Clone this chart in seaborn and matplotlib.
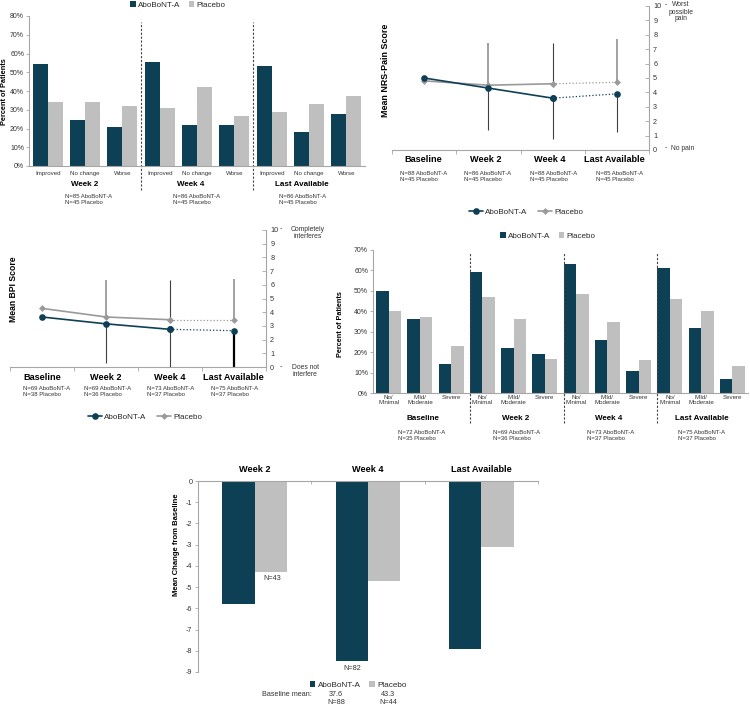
import numpy as np
import pandas as pd
import seaborn as sns
import matplotlib
matplotlib.use('Agg')
import matplotlib.pyplot as plt
from matplotlib.lines import Line2D

sns.set_theme(style='white')
plt.rcParams['font.family'] = ['Liberation Sans', 'DejaVu Sans']

# ---------------- data ----------------
series = ['AboBoNT-A', 'Placebo']

# Panel A: change category (%)
a_groups = ['Week 2', 'Week 4', 'Last Available']
a_cats = ['Improved', 'No change', 'Worse']
a_abo = [54.2, 24.5, 21.0, 55.6, 22.0, 22.0, 53.3, 18.4, 27.6]
a_pla = [34.2, 34.2, 31.8, 31.0, 42.2, 26.6, 28.7, 33.2, 37.6]
a_n = ['N=85 AboBoNT-A\nN=45 Placebo', 'N=86 AboBoNT-A\nN=45 Placebo', 'N=86 AboBoNT-A\nN=45 Placebo']

# Panel B: NRS-Pain
b_times = ['Baseline', 'Week 2', 'Week 4', 'Last Available']
b_abo = [5.0, 4.3, 3.6, 3.9]
b_pla = [4.8, 4.5, 4.6, 4.7]
b_abo_lo = [np.nan, 1.4, 0.75, 1.25]
b_pla_hi = [np.nan, 7.4, 7.4, 7.7]
b_n = ['N=88 AboBoNT-A\nN=45 Placebo', 'N=86 AboBoNT-A\nN=45 Placebo',
       'N=88 AboBoNT-A\nN=45 Placebo', 'N=85 AboBoNT-A\nN=45 Placebo']

# Panel C: BPI
c_abo = [3.65, 3.15, 2.75, 2.65]
c_pla = [4.28, 3.65, 3.45, 3.45]
c_abo_lo = [np.nan, 0.3, 0.0, 0.0]
c_pla_hi = [np.nan, 6.35, 6.35, 6.45]
c_n = ['N=69 AboBoNT-A\nN=38 Placebo', 'N=69 AboBoNT-A\nN=36 Placebo',
       'N=73 AboBoNT-A\nN=37 Placebo', 'N=75 AboBoNT-A\nN=37 Placebo']

# Panel D: severity category (%)
d_groups = ['Baseline', 'Week 2', 'Week 4', 'Last Available']
d_cats = ['No/\nMinimal', 'Mild/\nModerate', 'Severe']
d_abo = [50.0, 36.0, 14.0, 59.4, 22.0, 19.0, 63.0, 26.0, 10.8, 61.0, 32.0, 7.0]
d_pla = [40.0, 37.0, 23.0, 47.0, 36.0, 16.5, 48.4, 35.0, 16.0, 45.8, 40.0, 13.0]
d_n = ['N=72 AboBoNT-A\nN=35 Placebo', 'N=69 AboBoNT-A\nN=36 Placebo',
       'N=73 AboBoNT-A\nN=37 Placebo', 'N=75 AboBoNT-A\nN=37 Placebo']

# Panel E: mean change from baseline
e_groups = ['Week 2', 'Week 4', 'Last Available']
e_abo = [-5.8, -8.5, -7.9]
e_pla = [-4.3, -4.7, -3.1]
e_base_mean = ['37.6', '43.3']
e_base_n = ['N=88', 'N=44']

# ---------------- style ----------------
W, H = 750, 706
DARK = '#0e4055'
LIGHT = '#bfbfbf'
PLA_LINE = '#9a9a9a'
AXC = '#a6a6a6'
TXT = '#333333'

fig = plt.figure(figsize=(W / 100, H / 100), dpi=100)


def rect(x0, y0, x1, y1):
    return [x0 / W, 1 - y1 / H, (x1 - x0) / W, (y1 - y0) / H]


def T(x, y, s, **kw):
    kw.setdefault('ha', 'center')
    kw.setdefault('va', 'center')
    kw.setdefault('color', 'black')
    fig.text(x / W, 1 - y / H, s, **kw)


def style(ax):
    for s in ax.spines.values():
        s.set_color(AXC)
        s.set_linewidth(0.8)
    ax.tick_params(colors=AXC, labelcolor=TXT, width=0.6)
    ax.set_xlabel('')
    ax.set_ylabel('')


def bar_panel(ax, pos, abo, pla, width):
    df = pd.DataFrame({'pos': pos + pos, 'value': list(abo) + list(pla),
                       'Series': [series[0]] * len(pos) + [series[1]] * len(pos)})
    sns.barplot(data=df, x='pos', y='value', hue='Series', order=pos, hue_order=series,
                palette=[DARK, LIGHT], saturation=1, width=width, linewidth=0, ax=ax)


def bar_legend(ax, cx, cy, fs=5.8):
    h, l = ax.get_legend_handles_labels()
    if ax.get_legend() is not None:
        ax.get_legend().remove()
    fig.legend(h, l, loc='center', bbox_to_anchor=(cx / W, 1 - cy / H), ncol=2,
               frameon=False, fontsize=fs, handlelength=0.7, handleheight=0.7,
               handletextpad=0.3, columnspacing=1.0, borderpad=0)


def line_panel(ax, abo, pla, abo_lo, pla_hi, up_cols, lo_cols, lo_widths):
    x = np.arange(4)
    for i in range(4):
        if not np.isnan(pla_hi[i]):
            ax.vlines(x[i], pla[i], pla_hi[i], colors=up_cols[i],
                      lw=1.3 if up_cols[i] == PLA_LINE else 0.8, zorder=1)
        if not np.isnan(abo_lo[i]):
            ax.vlines(x[i], abo_lo[i], abo[i], colors=lo_cols[i], lw=lo_widths[i], zorder=1)
    sns.lineplot(x=x[:3], y=pla[:3], color=PLA_LINE, lw=1.2, marker='D', markersize=3.5,
                 markeredgewidth=0, ax=ax, zorder=3)
    sns.lineplot(x=x[2:], y=pla[2:], color=PLA_LINE, lw=0.9, ls=':', marker='D',
                 markersize=3.5, markeredgewidth=0, ax=ax, zorder=3)
    sns.lineplot(x=x[:3], y=abo[:3], color=DARK, lw=1.2, marker='o', markersize=4.8,
                 markeredgewidth=0, ax=ax, zorder=4)
    sns.lineplot(x=x[2:], y=abo[2:], color=DARK, lw=0.9, ls=':', marker='o',
                 markersize=4.8, markeredgewidth=0, ax=ax, zorder=4)
    style(ax)
    ax.set_xlim(-0.5, 3.5)
    ax.set_ylim(0, 10)
    ax.spines['left'].set_visible(False)
    ax.spines['top'].set_visible(False)
    ax.yaxis.tick_right()
    ax.set_yticks(range(11))
    ax.tick_params(axis='y', right=True, left=False, direction='in', length=3,
                   labelsize=5.2, pad=3)
    ax.set_xticks([-0.5, 0.5, 1.5, 2.5, 3.5])
    ax.tick_params(axis='x', bottom=True, direction='out', length=3, labelbottom=False)


def line_legend(cx, cy):
    hs = [Line2D([], [], color=DARK, lw=1.2, marker='o', markersize=4.8, markeredgewidth=0),
          Line2D([], [], color=PLA_LINE, lw=1.2, marker='D', markersize=3.5, markeredgewidth=0)]
    fig.legend(hs, series, loc='center', bbox_to_anchor=(cx / W, 1 - cy / H), ncol=2,
               frameon=False, fontsize=5.8, handlelength=1.8, handletextpad=0.3,
               columnspacing=1.2, borderpad=0)


# ---------------- Panel A ----------------
axA = fig.add_axes(rect(29, 16, 365, 166))
posA = [f'{g}|{c}' for g in a_groups for c in a_cats]
bar_panel(axA, posA, a_abo, a_pla, 0.8)
style(axA)
axA.set_xlim(-0.5, 8.5)
axA.set_ylim(0, 80)
axA.set_yticks(range(0, 81, 10))
axA.set_yticklabels([f'{v}%' for v in range(0, 81, 10)], fontsize=5.0)
axA.set_xticks(range(9))
axA.set_xticklabels(a_cats * 3, fontsize=4.4)
axA.tick_params(axis='x', bottom=False, length=0, pad=3.5)
axA.tick_params(axis='y', left=True, length=2, pad=1.5)
axA.spines['top'].set_visible(False)
axA.spines['right'].set_visible(False)
for xv in [2.5, 5.5]:
    axA.axvline(xv, ymin=-0.16, ymax=0.96, color='#444444', ls=(0, (2, 1.5)), lw=0.8,
                clip_on=False)
bar_legend(axA, 178, 5)
T(5, 92, 'Percent of Patients', rotation=90, fontsize=5.3, fontweight='bold')
for cx, g in zip([85, 191, 302], a_groups):
    T(cx, 185, g, fontsize=5.8, fontweight='bold')
for lx, s in zip([65, 173, 279], a_n):
    T(lx, 200, s, ha='left', fontsize=4.3, linespacing=1.25, color=TXT)

# ---------------- Panel B ----------------
axB = fig.add_axes(rect(392, 6, 649, 150))
line_panel(axB, b_abo, b_pla, b_abo_lo, b_pla_hi,
           up_cols=[None, PLA_LINE, '#404040', PLA_LINE],
           lo_cols=[None, '#404040', '#404040', '#404040'],
           lo_widths=[0, 0.8, 0.8, 0.8])
T(385, 70, 'Mean NRS-Pain Score', rotation=90, fontsize=6.4, fontweight='bold')
for cx, t in zip([423, 486, 550, 614], b_times):
    T(cx, 160, t, fontsize=6.6, fontweight='bold')
for lx, s in zip([400, 464, 530, 596], b_n):
    T(lx, 176.5, s, ha='left', fontsize=4.3, linespacing=1.25, color=TXT)
T(666, 5, '-', fontsize=5, color=TXT)
T(681, 12, 'Worst\npossible\npain', fontsize=4.9, linespacing=1.0, color=TXT)
T(666, 148, '-', fontsize=5, color=TXT)
T(671, 148, 'No pain', ha='left', fontsize=4.9, color=TXT)
line_legend(526, 212)

# ---------------- Panel C ----------------
axC = fig.add_axes(rect(10, 230, 266, 367))
line_panel(axC, c_abo, c_pla, c_abo_lo, c_pla_hi,
           up_cols=[None, PLA_LINE, '#404040', PLA_LINE],
           lo_cols=[None, '#404040', '#404040', '#000000'],
           lo_widths=[0, 0.8, 0.8, 1.6])
T(14, 289, 'Mean BPI Score', rotation=90, fontsize=6.2, fontweight='bold')
for cx, t in zip([42, 106, 170, 233], b_times):
    T(cx, 378, t, fontsize=6.6, fontweight='bold')
for lx, s in zip([23, 84, 147, 211], c_n):
    T(lx, 391.5, s, ha='left', fontsize=4.3, linespacing=1.25, color=TXT)
T(281, 229, '-', fontsize=5, color=TXT)
T(308, 233, 'Completely\ninterferes', fontsize=4.9, linespacing=1.05, color=TXT)
T(281, 367, '-', fontsize=5, color=TXT)
T(305, 371, 'Does not\ninterfere', fontsize=4.9, linespacing=1.05, color=TXT)
line_legend(145, 417)

# ---------------- Panel D ----------------
axD = fig.add_axes(rect(373, 250, 748, 393))
posD = [f'{g}|{c}' for g in d_groups for c in d_cats]
bar_panel(axD, posD, d_abo, d_pla, 0.8)
style(axD)
axD.set_xlim(-0.5, 11.5)
axD.set_ylim(0, 70)
axD.set_yticks(range(0, 71, 10))
axD.set_yticklabels([f'{v}%' for v in range(0, 71, 10)], fontsize=5.0)
axD.set_xticks(range(12))
axD.set_xticklabels(d_cats * 4, fontsize=4.4, linespacing=1.05)
axD.tick_params(axis='x', bottom=False, length=0, pad=1.5)
axD.tick_params(axis='y', left=True, length=2, pad=1.5)
axD.spines['top'].set_visible(False)
axD.spines['right'].set_visible(False)
for xv in [2.6, 5.6, 8.6]:
    axD.axvline(xv, ymin=-0.21, ymax=0.98, color='#444444', ls=(0, (2, 1.5)), lw=0.8,
                clip_on=False)
bar_legend(axD, 548, 236)
T(340, 324, 'Percent of Patients', rotation=90, fontsize=5.2, fontweight='bold')
for cx, g in zip([423, 516, 609, 702], d_groups):
    T(cx, 419, g, fontsize=5.8, fontweight='bold')
for lx, s in zip([398, 493, 587, 678], d_n):
    T(lx, 435.5, s, ha='left', fontsize=4.3, linespacing=1.25, color=TXT)

# ---------------- Panel E ----------------
axE = fig.add_axes(rect(198, 481, 538, 672))
bar_panel(axE, e_groups, e_abo, e_pla, 0.57)
style(axE)
axE.set_xlim(-0.5, 2.5)
axE.set_ylim(-9, 0)
axE.set_yticks(range(-9, 1))
axE.set_yticklabels([str(v) for v in range(-9, 1)], fontsize=5.2)
axE.tick_params(axis='y', left=True, length=2, pad=2)
axE.spines['bottom'].set_visible(False)
axE.spines['right'].set_visible(False)
axE.xaxis.tick_top()
axE.set_xticks([-0.5, 0.5, 1.5, 2.5])
axE.tick_params(axis='x', top=True, bottom=False, direction='in', length=2,
                labeltop=False, labelbottom=False)
bar_legend(axE, 358, 685, fs=5.9)
T(176, 545, 'Mean Change from Baseline', rotation=90, fontsize=5.5, fontweight='bold')
for cx, g in zip([255, 368, 481], e_groups):
    T(cx, 469, g, fontsize=6.6, fontweight='bold')
T(272, 578, 'N=43', fontsize=5.2, color=TXT)
T(352, 668, 'N=82', fontsize=5.2, color=TXT)
T(287, 694, 'Baseline mean:', fontsize=5.2, color=TXT)
for cx, m, n in zip([336, 388], e_base_mean, e_base_n):
    T(cx, 694, m, fontsize=5.2, color=TXT)
    T(cx, 702, n, fontsize=5.2, color=TXT)

fig.savefig('out.png', dpi=100)
